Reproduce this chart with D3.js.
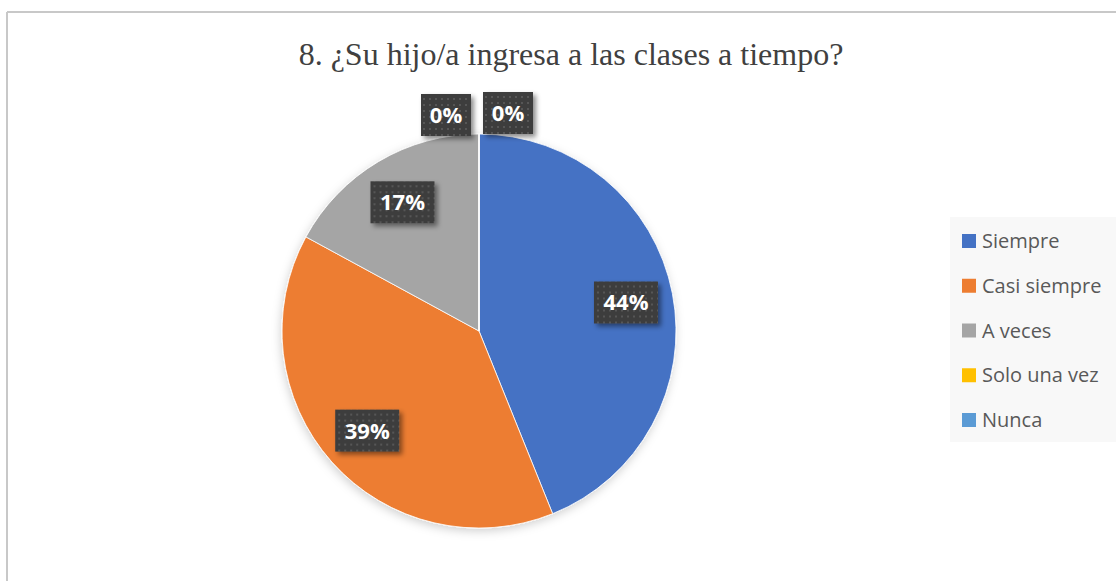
<!DOCTYPE html>
<html>
<head>
<meta charset="utf-8">
<script src="https://cdn.jsdelivr.net/npm/d3@7"></script>
<style>
  body { margin: 0; background: #fff; }
  svg { display: block; }
</style>
</head>
<body>
<script>
// chart data
const categories = ['Siempre', 'Casi siempre', 'A veces', 'Solo una vez', 'Nunca'];
const counts = [18, 16, 7, 0, 0];
const colors = ['#4472c4', '#ed7d31', '#a5a5a5', '#ffc000', '#5b9bd5'];
const title = '8. ¿Su hijo/a ingresa a las clases a tiempo?';

const w = 1116;
const h = 581;
const cx = 479;
const cy = 331;
const radius = 197;

const svg = d3.select('body').append('svg')
  .attr('width', w)
  .attr('height', h);

const defs = svg.append('defs');

// dotted fill for the data label boxes
const pat = defs.append('pattern')
  .attr('id', 'dots')
  .attr('width', 6)
  .attr('height', 6)
  .attr('patternUnits', 'userSpaceOnUse');
pat.append('rect').attr('width', 6).attr('height', 6).attr('fill', '#3d3d3d');
pat.append('rect').attr('x', 1).attr('y', 1).attr('width', 2).attr('height', 2).attr('fill', '#575757');

const shadow = defs.append('filter')
  .attr('id', 'shadow')
  .attr('x', '-30%').attr('y', '-30%')
  .attr('width', '160%').attr('height', '160%');
shadow.append('feDropShadow')
  .attr('dx', 3).attr('dy', 3)
  .attr('stdDeviation', 2.5)
  .attr('flood-color', '#000')
  .attr('flood-opacity', 0.45);

const pieShadow = defs.append('filter')
  .attr('id', 'pieShadow')
  .attr('x', '-20%').attr('y', '-20%')
  .attr('width', '140%').attr('height', '140%');
pieShadow.append('feDropShadow')
  .attr('dx', -1).attr('dy', 3)
  .attr('stdDeviation', 5)
  .attr('flood-color', '#000')
  .attr('flood-opacity', 0.18);

// frame lines (top and left only are visible)
svg.append('line')
  .attr('x1', 7).attr('y1', 12).attr('x2', w).attr('y2', 12)
  .attr('stroke', '#c8c8c8').attr('stroke-width', 2);
svg.append('line')
  .attr('x1', 7).attr('y1', 12).attr('x2', 7).attr('y2', h)
  .attr('stroke', '#c8c8c8').attr('stroke-width', 2);

// title
svg.append('text')
  .attr('x', 571)
  .attr('y', 65)
  .attr('text-anchor', 'middle')
  .attr('font-family', '"Liberation Serif", "Times New Roman", serif')
  .attr('font-size', 32)
  .attr('fill', '#404040')
  .text(title);

const total = d3.sum(counts);
const data = categories.map((c, i) => ({ name: c, value: counts[i], color: colors[i] }));

const pie = d3.pie().sort(null).value((d) => d.value);
const arcs = pie(data);

const arc = d3.arc().innerRadius(0).outerRadius(radius);
const labelArc = d3.arc().innerRadius(radius * 0.76).outerRadius(radius * 0.76);

const g = svg.append('g').attr('transform', `translate(${cx}, ${cy})`);

g.append('g')
  .attr('filter', 'url(#pieShadow)')
  .selectAll('path')
  .data(arcs)
  .enter()
  .append('path')
  .attr('d', arc)
  .attr('fill', (d) => d.data.color)
  .attr('stroke', '#fff')
  .attr('stroke-width', 0.8);

// data labels
const fmt = (v) => `${Math.round(v / total * 100)}%`;
let zeroIdx = 0;
arcs.forEach((d) => {
  let pos;
  if (d.data.value === 0) {
    // zero slices sit at the top of the pie, labels pushed outside
    const p = d3.arc().innerRadius(radius + 20).outerRadius(radius + 20).centroid(d);
    pos = [p[0] + (zeroIdx === 0 ? -33 : 29), p[1] + (zeroIdx === 0 ? 1 : -1)];
    zeroIdx++;
  } else {
    pos = labelArc.centroid(d);
  }
  const txt = fmt(d.data.value);
  const bw = txt.length === 2 ? 50 : 64;
  const bh = 42;
  const lg = g.append('g').attr('transform', `translate(${pos[0]}, ${pos[1]})`);
  lg.append('rect')
    .attr('x', -bw / 2).attr('y', -bh / 2)
    .attr('width', bw).attr('height', bh)
    .attr('fill', 'url(#dots)')
    .attr('filter', 'url(#shadow)');
  lg.append('text')
    .attr('text-anchor', 'middle')
    .attr('dy', '0.36em')
    .attr('font-family', '"Open Sans", "Noto Sans", sans-serif')
    .attr('font-weight', 'bold')
    .attr('font-size', 22)
    .attr('fill', '#fff')
    .text(txt);
});

// legend
const legend = svg.append('g');
legend.append('rect')
  .attr('x', 950).attr('y', 217)
  .attr('width', w - 950).attr('height', 225)
  .attr('fill', '#f8f8f8');

const rowY = d3.scalePoint().domain(categories).range([241, 420]);
const item = legend.selectAll('g.item')
  .data(data)
  .enter()
  .append('g')
  .attr('class', 'item')
  .attr('transform', (d) => `translate(962, ${rowY(d.name)})`);
item.append('rect')
  .attr('x', 0).attr('y', -7)
  .attr('width', 14).attr('height', 14)
  .attr('fill', (d) => d.color);
item.append('text')
  .attr('x', 20)
  .attr('dy', '0.36em')
  .attr('font-family', '"Open Sans", "Noto Sans", sans-serif')
  .attr('font-size', 20)
  .attr('fill', '#595959')
  .text((d) => d.name);
</script>
</body>
</html>
